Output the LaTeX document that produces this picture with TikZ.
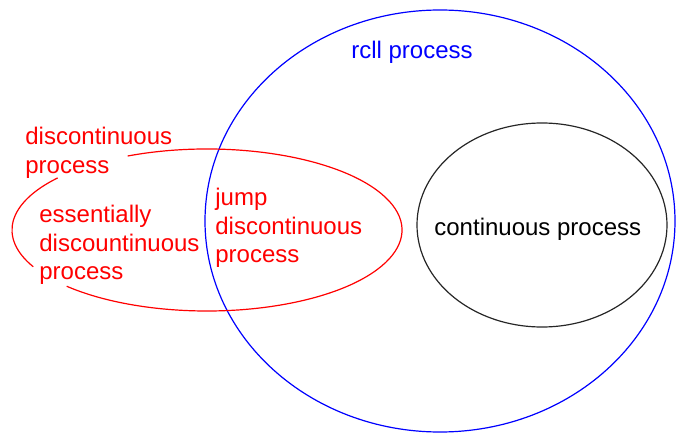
\documentclass[tikz,border=0pt]{standalone}
\usepackage{fontspec}
\setmainfont{Liberation Sans}
\tikzset{
  etichetta/.style={font=\fontsize{12}{14.3}\selectfont, align=left, inner sep=0pt},
  bordo/.style={line width=0.6pt}
}
\begin{document}
\begin{tikzpicture}[x=0.5pt,y=0.5pt]
        \useasboundingbox (0,0) rectangle (676,435);

        % Cerchio dei processi rcll
        \draw[bordo,blue] (440,214) ellipse [x radius=235, y radius=211];

        % Ellisse dei processi continui
        \draw[bordo,black!85] (542,210) ellipse [x radius=125, y radius=102];

        % Ellisse dei processi discontinui (interrotta dalle scritte)
        \draw[bordo,red] ([shift={(114:195 and 81)}]207,205)
            arc[start angle=114, end angle=-136, x radius=195, y radius=81];
        \draw[bordo,red] ([shift={(140:195 and 81)}]207,205)
            arc[start angle=140, end angle=207, x radius=195, y radius=81];

        % Etichette
        \node[etichetta,blue] (rcll) at (412,383) {rcll process};
        \node[etichetta,red,anchor=west] (disc) at (25,282) {discontinuous\\process};
        \node[etichetta,red,anchor=west] (ess) at (39,190) {essentially\\discountinuous\\process};
        \node[etichetta,red,anchor=west] (jump) at (215,207) {jump\\discontinuous\\process};
        \node[etichetta,anchor=west] (cont) at (434,206) {continuous process};
    \end{tikzpicture}
\end{document}
